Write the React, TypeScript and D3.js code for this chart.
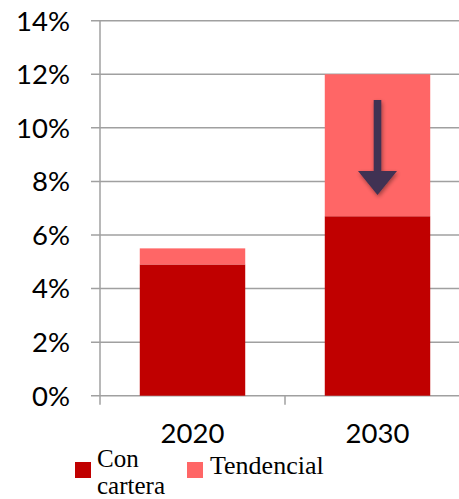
import React from "react";
import * as d3 from "d3";

const categories = ["2020", "2030"];
const conCartera = [4.9, 6.7];
const tendencial = [0.6, 5.3];
const yTicks = [0, 2, 4, 6, 8, 10, 12, 14];
const seriesNames = ["Con cartera", "Tendencial"];
const colors = ["#C00000", "#FF6666"];

export default function App() {
  const W = 459, H = 499;
  const left = 100, right = 470, top = 20.7, bottom = 395.7;
  const x = d3.scaleBand().domain(categories).range([left, right]).paddingInner(0.43).paddingOuter(0.215);
  const y = d3.scaleLinear().domain([0, 14]).range([bottom, top]);
  const gridColor = "#A0A0A0";
  const font = "Lato, 'Open Sans', sans-serif";
  const stacks = categories.map((c, i) => ({ c, a: conCartera[i], b: tendencial[i] }));
  const c2030 = x("2030")! + x.bandwidth() / 2;
  return (
    <svg width={W} height={H} style={{ position: "absolute", left: 0, top: 0 }}>
      <defs>
        <filter id="sh" x="-50%" y="-50%" width="200%" height="200%">
          <feGaussianBlur in="SourceAlpha" stdDeviation="2" />
          <feOffset dx="1" dy="2" result="o" />
          <feComponentTransfer><feFuncA type="linear" slope="0.4" /></feComponentTransfer>
          <feMerge><feMergeNode /><feMergeNode in="SourceGraphic" /></feMerge>
        </filter>
      </defs>
      <rect width={W} height={H} fill="#fff" />
      {yTicks.map(t => (
        <g key={t}>
          <line x1={left - 9} x2={W} y1={y(t)} y2={y(t)} stroke={gridColor} strokeWidth={1.5} />
          <text x={70} y={y(t)} dy="0.36em" textAnchor="end" fontFamily={font} fontSize={27.5} fill="#000">{t}%</text>
        </g>
      ))}
      <line x1={left} x2={left} y1={top} y2={bottom + 9} stroke={gridColor} strokeWidth={1.5} />
      <line x1={285} x2={285} y1={bottom} y2={bottom + 9} stroke={gridColor} strokeWidth={1.5} />
      {stacks.map(s => (
        <g key={s.c}>
          <rect x={x(s.c)} width={x.bandwidth()} y={y(s.a)} height={y(0) - y(s.a)} fill={colors[0]} />
          <rect x={x(s.c)} width={x.bandwidth()} y={y(s.a + s.b)} height={y(s.a) - y(s.a + s.b)} fill={colors[1]} />
          <text x={x(s.c)! + x.bandwidth() / 2} y={443} textAnchor="middle" fontFamily={font} fontSize={27.5} fill="#000">{s.c}</text>
        </g>
      ))}
      <g filter="url(#sh)" fill="#403152">
        <rect x={c2030 - 3.8} y={100} width={7.6} height={73} />
        <path d={`M${c2030 - 19.5},171 L${c2030 + 19.5},171 L${c2030},195 Z`} />
      </g>
      <rect x={75} y={462} width={16} height={16} fill={colors[0]} />
      <text x={97} y={467} fontFamily="'Liberation Serif', 'Times New Roman', serif" fontSize={25} fill="#000">Con</text>
      <text x={97} y={494} fontFamily="'Liberation Serif', 'Times New Roman', serif" fontSize={25} fill="#000">cartera</text>
      <rect x={187} y={462} width={16} height={16} fill={colors[1]} />
      <text x={210} y={474} fontFamily="'Liberation Serif', 'Times New Roman', serif" fontSize={26} fill="#000">{seriesNames[1]}</text>
    </svg>
  );
}
